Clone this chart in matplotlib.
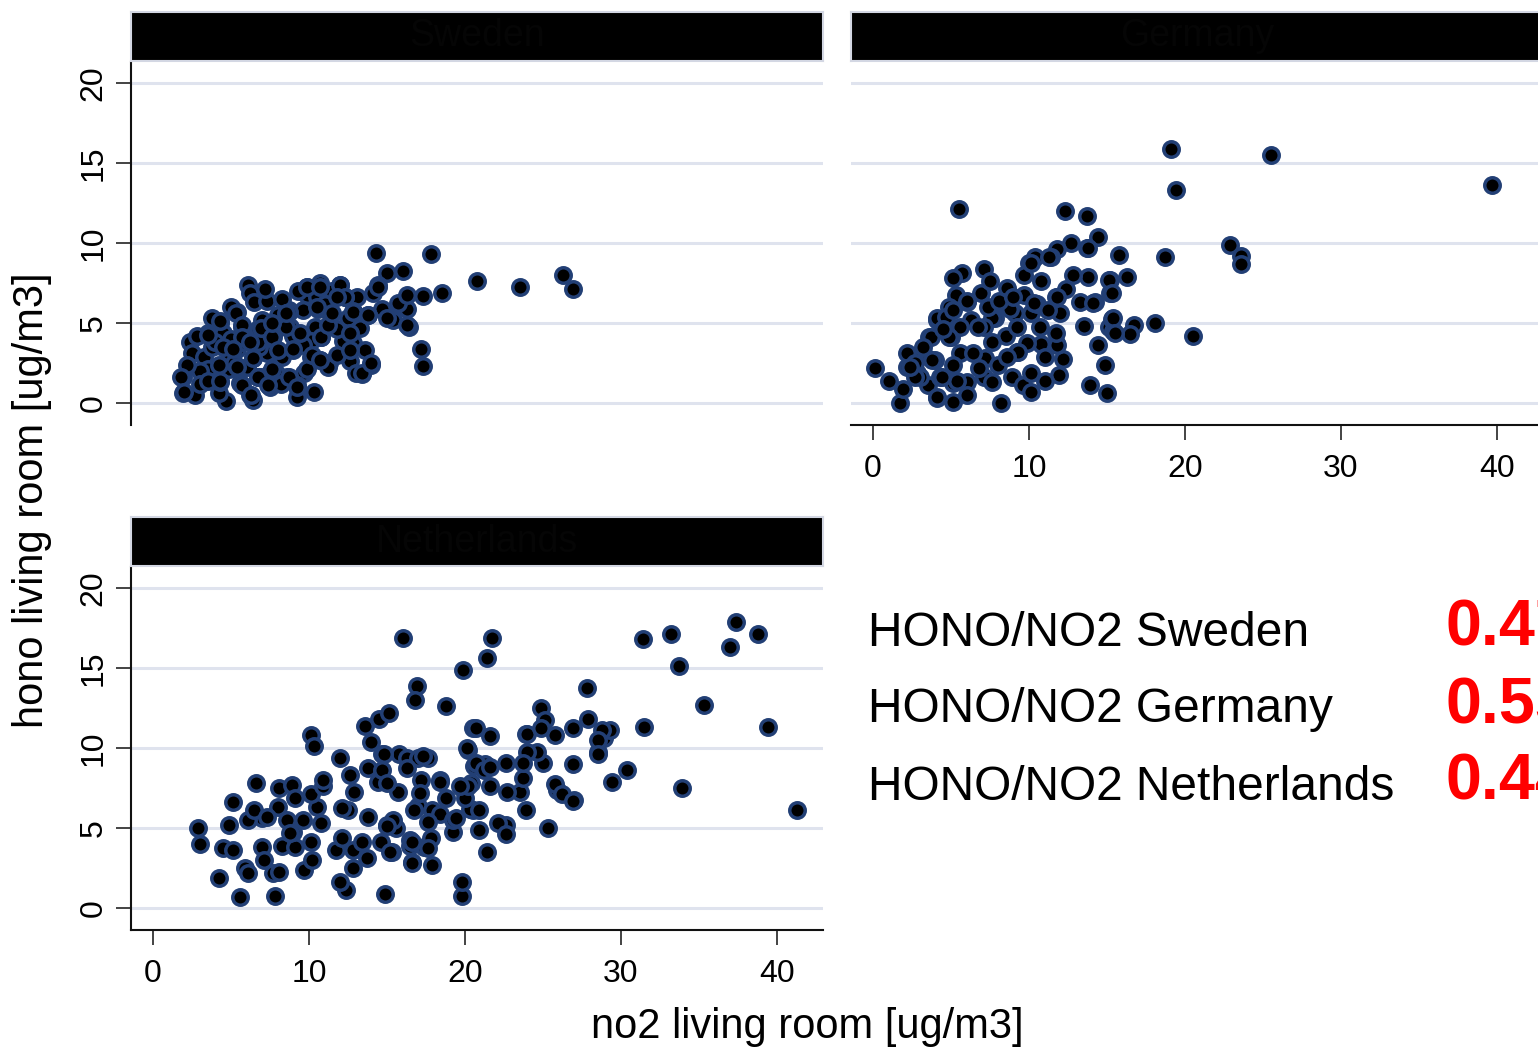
import matplotlib
matplotlib.use('Agg')
import matplotlib.pyplot as plt

plt.rcParams['font.family'] = ['Liberation Sans', 'DejaVu Sans']

# no2 / hono living room measurements per country
sweden_no2 = [14.3, 17.8, 20.8, 23.5, 26.3, 26.9, 18.5, 17.2, 17.3, 16.0, 15.0, 16.4, 14.0, 13.4, 10.3, 9.2,
              17.3, 14.4, 14.1, 14.7, 15.8, 16.3, 15.4, 15.0, 13.8, 13.1, 12.3, 12.0, 12.8, 12.6, 12.8, 12.6,
              11.3, 11.3, 10.7, 9.9, 9.9, 10.6, 10.8, 10.7, 9.7, 9.2, 8.6, 7.5, 6.7, 6.2, 6.4, 4.7, 4.2, 2.7,
              1.9, 1.9, 2.4, 2.5, 3.5, 3.3, 4.3, 4.5, 5.4, 6.1, 6.2, 6.5, 7.3, 5.7, 6.7, 7.7, 8.7, 9.6, 9.0,
              7.9, 6.4, 4.9, 3.5, 4.3, 5.6, 6.9, 7.5, 7.9, 10.4, 10.1, 11.2, 12.2, 12.5, 11.8, 8.8, 7.9, 7.3,
              5.4, 3.8, 4.9, 6.0, 8.3, 10.1, 10.5, 11.2, 3.0, 4.0, 5.0, 5.8, 7.0, 8.0, 8.3, 9.3, 11.5, 11.0,
              9.0, 6.8, 5.2, 3.0, 2.2, 8.2, 9.6, 11.8, 13.3, 13.6, 13.0, 7.2, 5.0, 3.8, 2.8,
              1.8, 2.0, 3.5, 4.3, 5.3, 5.7, 4.5, 4.2, 3.5, 4.3, 5.7, 6.3, 6.7, 6.4, 6.7, 6.9, 7.6, 8.0,
              7.6, 7.4, 8.5, 8.7, 9.4, 9.0, 8.7, 9.2, 9.9, 10.2, 10.7, 10.8, 11.2, 10.5, 9.9, 10.7, 12.0,
              12.3, 12.8, 12.6, 12.6, 13.4, 14.0, 13.8, 14.4, 15.7, 16.3, 16.3, 11.8, 11.5, 8.5, 7.6, 5.7,
              5.1, 5.4, 6.2]
sweden_hono = [9.4, 9.3, 7.6, 7.25, 8.0, 7.1, 6.9, 3.4, 2.3, 8.25, 8.1, 4.75, 2.4, 1.8, 0.7, 0.4,
               6.7, 7.4, 6.9, 5.9, 6.1, 5.9, 5.2, 5.3, 5.5, 6.6, 6.6, 7.4, 5.75, 4.4, 3.75, 2.6,
               4.9, 2.5, 7.5, 7.25, 6.75, 5.9, 4.1, 2.7, 1.9, 1.1, 1.6, 1.9, 1.6, 0.5, 0.2, 0.1, 0.6, 0.5,
               0.6, 1.6, 3.8, 3.1, 4.4, 2.9, 5.0, 4.4, 5.7, 7.4, 6.9, 6.3, 6.4, 4.75, 4.6, 4.1, 5.8, 5.8, 3.3,
               3.2, 2.8, 3.1, 2.1, 1.3, 1.25, 1.6, 1.0, 1.9, 4.75, 3.9, 2.25, 3.9, 5.3, 3.0, 4.75, 4.6, 3.1,
               3.4, 3.5, 2.1, 2.25, 2.9, 2.9, 6.6, 5.8, 2.0, 3.8, 4.0, 3.8, 5.2, 5.5, 6.5, 7.0, 7.0, 6.2,
               4.2, 3.5, 2.5, 1.2, 2.4, 1.2, 3.6, 4.6, 4.7, 3.3, 1.9, 7.1, 6.0, 5.3, 4.2,
               1.6, 0.7, 4.25, 5.1, 5.6, 4.9, 3.5, 2.4, 1.4, 1.4, 1.1, 0.5, 1.6, 2.8, 3.8, 4.7, 4.1, 3.3,
               2.1, 1.1, 4.75, 5.7, 4.4, 3.4, 1.6, 1.0, 2.1, 3.0, 2.7, 4.1, 4.9, 6.0, 7.25, 7.25, 7.4,
               6.6, 5.7, 4.4, 3.3, 1.9, 2.5, 5.5, 7.25, 6.25, 6.75, 4.9, 6.6, 5.6, 5.6, 5.0, 4.1,
               3.4, 2.25, 3.8]

germany_no2 = [19.1, 25.5, 19.4, 39.7, 5.5, 12.3, 13.7, 14.4, 22.9, 23.6, 23.6, 18.7, 15.8, 12.7, 16.3, 20.5,
               18.1, 16.7, 16.5, 15.1, 14.4, 14.9, 15.0, 13.9, 0.1, 1.0, 1.7, 8.2, 5.1,
               13.7, 11.8, 11.4, 10.0, 10.4, 13.8, 12.8, 15.2, 15.2, 14.2, 13.3, 11.7, 12.4, 10.8, 9.7, 7.1,
               5.7, 5.1, 8.6, 9.7, 7.8, 6.3, 4.1, 6.0, 9.1, 10.1, 12.0, 13.5, 15.3, 15.4, 11.9, 11.0, 12.2,
               11.7, 10.8, 9.9, 9.2, 8.5, 7.6, 7.2, 8.0, 8.9, 9.6, 10.1, 7.1, 6.0, 4.1, 3.5, 1.9, 2.2, 2.8,
               4.0, 3.2, 3.6, 5.0, 5.6, 6.4, 7.6, 8.3, 6.9, 5.3, 4.9, 4.5, 5.6, 7.1, 9.2, 10.7, 5.1, 4.3,
               5.1, 6.0, 15.4, 15.5, 14.1, 15.1, 15.3, 11.0, 11.8, 10.1, 9.3, 4.1, 3.1, 3.8, 4.9, 3.7, 4.1,
               6.0, 11.8, 10.1, 11.3, 13.8, 4.7, 2.6, 3.0, 6.8, 8.8, 10.5, 7.5,
               2.2, 2.7, 3.2, 4.5, 5.1, 6.7, 7.4, 8.1, 9.0, 10.3, 11.2, 11.7, 8.6, 7.6, 5.4, 4.4, 2.7, 2.4]
germany_hono = [15.9, 15.5, 13.3, 13.6, 12.1, 12.0, 11.7, 10.4, 9.9, 9.2, 8.7, 9.1, 9.25, 10.0, 7.9, 4.2,
                5.0, 4.9, 4.3, 4.75, 3.6, 2.4, 0.6, 1.1, 2.2, 1.4, 0.0, 0.0, 0.06,
                9.7, 9.6, 9.1, 8.75, 9.1, 7.9, 8.0, 7.7, 6.9, 6.3, 6.3, 6.6, 7.1, 7.6, 8.0, 8.4,
                8.1, 7.8, 7.2, 6.75, 5.3, 5.2, 5.2, 6.3, 5.6, 5.6, 5.6, 4.8, 5.25, 4.5, 1.75, 1.4, 2.75,
                3.75, 3.7, 3.75, 3.2, 4.2, 3.8, 2.8, 2.4, 1.6, 1.1, 0.7, 1.6, 1.3, 0.3, 1.1, 0.9, 2.25, 1.9,
                2.7, 3.1, 4.1, 4.1, 3.1, 3.1, 5.3, 6.3, 6.9, 6.75, 6.0, 5.2, 4.75, 4.75, 4.75, 4.75, 2.4, 1.6,
                1.25, 0.5, 5.3, 4.4, 6.25, 7.7, 6.9, 2.9, 3.6, 1.9, 3.2, 0.4, 3.1, 2.7, 4.1, 4.1, 5.3,
                6.4, 6.6, 8.75, 9.1, 9.7, 5.4, 2.8, 1.6, 2.2, 5.9, 6.2, 7.6,
                3.1, 2.5, 3.5, 4.6, 5.8, 4.75, 6.0, 6.4, 6.6, 6.25, 5.8, 4.4, 2.9, 1.3, 1.4, 1.6, 1.6, 2.25]

netherlands_no2 = [16.0, 21.7, 21.4, 19.9, 16.9, 16.8, 18.8, 31.4, 33.2, 33.7, 37.4, 37.0, 38.8, 39.4, 35.3,
                   31.5, 27.8, 27.9, 33.9, 41.3, 30.4, 29.4, 28.5, 28.9, 29.3, 26.9, 27.0, 25.9, 25.3, 24.9,
                   25.1, 23.9, 19.8, 14.9, 12.4, 12.0, 7.8, 5.6, 4.2, 2.9, 3.0, 5.1, 6.6, 10.1, 10.3,
                   4.5, 5.1, 5.9, 6.1, 7.0, 7.1, 7.7, 8.1, 8.3, 9.1, 9.7, 10.2, 10.1, 10.5, 10.8, 9.0, 8.0,
                   8.1, 8.9, 9.1, 10.1, 10.9, 10.9, 7.0, 6.1, 4.9, 6.5, 7.3, 8.6, 8.8, 9.6, 11.7, 12.1, 12.8,
                   12.8, 13.4, 13.7, 14.6, 15.3, 15.0, 13.8, 12.5, 12.1, 12.9, 12.6, 12.0, 13.8, 14.4, 14.7,
                   14.7, 14.0, 13.6, 14.5, 15.1, 15.8, 16.3, 17.0, 17.6, 16.3, 17.2, 18.4, 15.7, 17.0, 17.9,
                   18.8, 15.6, 16.5, 17.4, 16.6, 17.9, 19.8, 19.2, 19.8, 20.5, 20.6, 20.2, 20.4, 20.5, 18.4,
                   24.0, 28.8, 28.5, 28.5, 25.8, 26.2, 26.9, 23.9, 23.5, 22.7, 23.7, 25.0, 24.6, 24.0, 23.7,
                   22.6, 21.6, 20.7, 21.3, 20.7, 20.1, 21.6, 22.6, 22.1, 20.9, 21.4, 22.6, 20.3, 20.0, 20.9,
                   19.2, 18.4, 17.1, 15.0, 16.7, 17.6, 19.4, 15.4, 15.0, 16.5, 17.8, 17.6, 16.6, 15.2, 16.6,
                   20.2, 19.7, 21.2, 21.6, 14.8, 17.3, 26.9, 25.8, 24.9]
netherlands_hono = [16.9, 16.9, 15.6, 14.9, 13.9, 13.0, 12.6, 16.8, 17.1, 15.1, 17.9, 16.3, 17.1, 11.3, 12.7,
                    11.3, 13.75, 11.8, 7.5, 6.1, 8.6, 7.9, 9.75, 10.6, 11.1, 9.0, 6.75, 7.4, 5.0, 12.5,
                    11.75, 10.9, 0.75, 0.9, 1.1, 1.6, 0.75, 0.7, 1.9, 5.0, 4.0, 6.6, 7.8, 10.8, 10.1,
                    3.75, 3.6, 2.5, 2.2, 3.8, 3.0, 2.2, 2.25, 3.9, 3.8, 2.4, 3.0, 4.1, 6.3, 5.3, 4.75, 6.3,
                    7.5, 7.7, 6.9, 7.1, 7.6, 8.0, 5.6, 5.5, 5.2, 6.1, 5.7, 5.5, 4.7, 5.5, 3.6, 4.4, 3.6,
                    2.5, 4.1, 3.1, 4.1, 3.5, 5.2, 5.7, 6.1, 6.25, 7.25, 8.3, 9.4, 8.75, 7.9, 8.6,
                    9.6, 10.4, 11.4, 11.8, 12.2, 9.6, 9.4, 9.4, 9.4, 8.75, 8.0, 8.0, 7.25, 6.4, 6.1,
                    6.9, 5.0, 3.9, 3.8, 2.9, 2.7, 1.6, 4.75, 7.5, 11.25, 8.9, 9.9, 7.8, 6.1, 5.9,
                    10.9, 11.1, 10.5, 9.6, 7.75, 7.1, 6.7, 6.1, 7.25, 7.25, 8.1, 9.06, 9.75, 9.75, 9.06,
                    9.06, 10.75, 11.25, 9.0, 9.06, 10.0, 7.6, 5.2, 5.3, 4.9, 3.5, 4.6, 6.2, 6.9, 6.1,
                    5.5, 7.9, 7.2, 7.8, 6.1, 5.4, 5.6, 5.5, 5.1, 4.25, 4.4, 3.75, 4.1, 3.5, 2.8,
                    7.6, 7.6, 8.6, 8.8, 9.6, 9.5, 11.25, 10.8, 11.25]

countries = ['Sweden', 'Germany', 'Netherlands']
ratios = [0.47, 0.55, 0.44]
x_ticks = [0, 10, 20, 30, 40]
y_ticks = [0, 5, 10, 15, 20]

W, H = 1538, 1048


def box(x0, y0, x1, y1):
    # pixel box (top-left origin) -> figure fraction rect
    return [x0 / W, 1 - y1 / H, (x1 - x0) / W, (y1 - y0) / H]


fig = plt.figure(figsize=(W / 100, H / 100), dpi=100)
fig.patch.set_facecolor('white')

grid_col = '#dfe3ee'
axis_col = '#111111'
mk_edge = '#223f75'


def panel(rect, xs, ys, show_x, show_y):
    ax = fig.add_axes(rect)
    ax.set_xlim(-1.41, 42.95)
    ax.set_ylim(-1.375, 21.31)
    for s in ax.spines.values():
        s.set_visible(False)
    ax.set_yticks(y_ticks)
    ax.set_xticks(x_ticks)
    for yv in y_ticks:
        ax.axhline(yv, color=grid_col, lw=2.2, zorder=0)
    ax.scatter(xs, ys, s=124, c='black', edgecolors=mk_edge, linewidths=2.5, zorder=3, clip_on=False)
    if show_y:
        ax.spines['left'].set_visible(True)
        ax.spines['left'].set_color(axis_col)
        ax.spines['left'].set_linewidth(1.5)
        ax.tick_params(axis='y', length=11, width=1.1, color=axis_col, labelsize=23,
                       labelrotation=90, pad=5)
        for lab in ax.get_yticklabels():
            lab.set_va('center')
    else:
        ax.tick_params(axis='y', left=False, labelleft=False)
    if show_x:
        ax.spines['bottom'].set_visible(True)
        ax.spines['bottom'].set_color(axis_col)
        ax.spines['bottom'].set_linewidth(1.5)
        ax.tick_params(axis='x', length=11, width=1.1, color=axis_col, labelsize=23, pad=10)
    else:
        ax.tick_params(axis='x', bottom=False, labelbottom=False)
    return ax


def title_bar(rect, name):
    tb = fig.add_axes(rect)
    tb.set_facecolor('black')
    tb.set_xticks([])
    tb.set_yticks([])
    for s in tb.spines.values():
        s.set_color('#d3d7e3')
        s.set_linewidth(1.5)
    tb.text(0.5, 0.5, name, ha='center', va='center', fontsize=27, color='#050505',
            transform=tb.transAxes)


panel(box(131, 62, 823, 425), sweden_no2, sweden_hono, False, True)
panel(box(851, 62, 1543, 425), germany_no2, germany_hono, True, False)
panel(box(131, 567, 823, 930), netherlands_no2, netherlands_hono, True, True)

title_bar(box(131, 12, 823, 61), countries[0])
title_bar(box(851, 12, 1543, 61), countries[1])
title_bar(box(131, 517, 823, 566), countries[2])

fig.text(807 / W, 1 - 1027 / H, 'no2 living room [ug/m3]', ha='center', va='center', fontsize=30)
fig.text(32 / W, 1 - 500 / H, 'hono living room [ug/m3]', ha='center', va='center',
         rotation=90, fontsize=30)

# ratio summary
for i, (name, r) in enumerate(zip(countries, ratios)):
    yc = 633 + i * 77
    fig.text(868 / W, 1 - yc / H, f'HONO/NO2 {name}', ha='left', va='center', fontsize=34.5)
    fig.text(1445 / W, 1 - (yc - 4) / H, f'{r:.2f}', ha='left', va='center', fontsize=46.5,
             fontweight='bold', color='#ff0000')

fig.savefig('out.png', dpi=100)
